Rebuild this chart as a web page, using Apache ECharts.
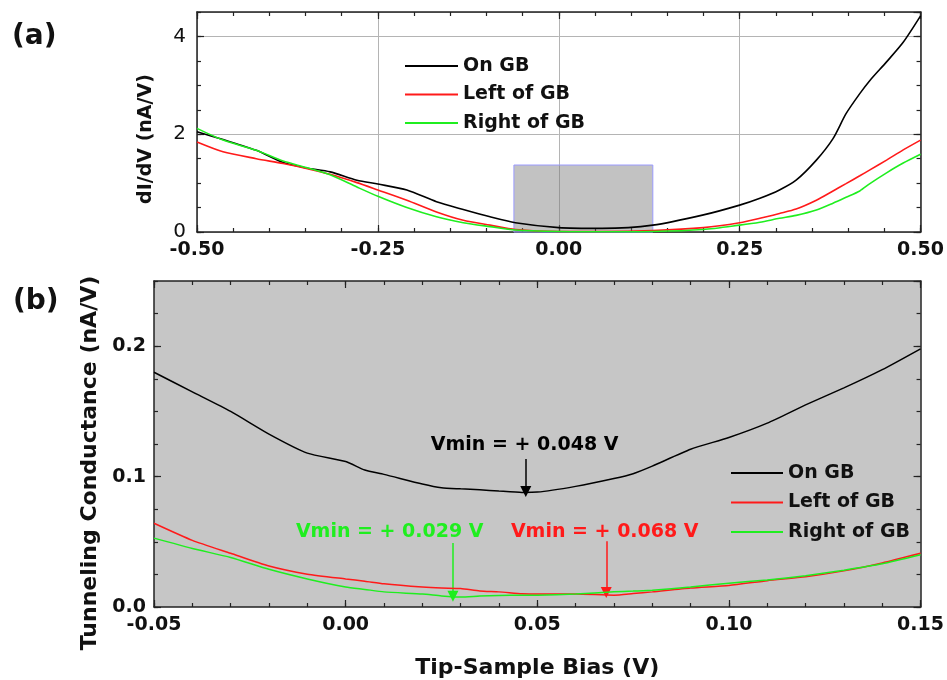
<!DOCTYPE html>
<html>
<head>
<meta charset="utf-8">
<script src="https://cdn.jsdelivr.net/npm/echarts@6/dist/echarts.min.js"></script>
<style>
html,body{margin:0;padding:0;background:#fff;}
#c{width:947px;height:680px;}
</style>
</head>
<body>
<div id="c"></div>
<script>
// ---------- data: panel (a) ----------
var seriesNames = ['On GB', 'Left of GB', 'Right of GB'];
var biasA = [-0.5,-0.464,-0.418,-0.381,-0.349,-0.316,-0.279,-0.25,-0.21,-0.169,-0.132,-0.095,-0.06,0,0.06,0.13,0.2,0.25,0.278,0.305,0.328,0.356,0.379,0.397,0.416,0.43,0.453,0.476,0.5];
var onGB_A    = [2.05,1.89,1.67,1.42,1.31,1.23,1.06,0.98,0.86,0.62,0.46,0.31,0.19,0.09,0.075,0.14,0.35,0.55,0.69,0.86,1.06,1.47,1.91,2.42,2.83,3.10,3.48,3.88,4.42];
var leftGB_A  = [1.84,1.64,1.50,1.40,1.30,1.18,1.01,0.86,0.65,0.41,0.24,0.14,0.05,0.01,0.01,0.03,0.09,0.19,0.28,0.38,0.47,0.65,0.84,0.99,1.15,1.27,1.47,1.68,1.88];
var rightGB_A = [2.12,1.88,1.67,1.45,1.32,1.17,0.92,0.73,0.50,0.31,0.19,0.11,0.04,0.01,0.005,0.01,0.05,0.14,0.20,0.28,0.34,0.45,0.59,0.71,0.84,0.99,1.21,1.41,1.59];
var zoomBox = [-0.062, 0.13, 1.37]; // x from, x to, height of highlighted window

// ---------- data: panel (b) ----------
var biasB = [-0.05,-0.04,-0.03,-0.02,-0.01,0,0.005,0.01,0.02,0.025,0.03,0.035,0.04,0.046,0.05,0.06,0.07,0.075,0.08,0.09,0.10,0.11,0.12,0.13,0.14,0.15];
var onGB_B    = [0.180,0.165,0.150,0.1326,0.118,0.1116,0.105,0.1017,0.0943,0.0914,0.0906,0.0899,0.0889,0.0879,0.0881,0.0925,0.0985,0.1022,0.108,0.121,0.130,0.141,0.155,0.168,0.182,0.198];
var leftGB_B  = [0.0642,0.0511,0.0412,0.0314,0.0252,0.0215,0.0198,0.0178,0.0153,0.0145,0.0141,0.0123,0.0116,0.0102,0.0099,0.0099,0.0091,0.0103,0.0116,0.0146,0.0165,0.0202,0.0232,0.0277,0.0338,0.0412];
var rightGB_B = [0.0528,0.0449,0.038,0.0289,0.0215,0.0153,0.0135,0.0116,0.0099,0.0085,0.0076,0.0084,0.0089,0.009,0.0091,0.0099,0.0116,0.0122,0.0128,0.0153,0.0183,0.0207,0.024,0.0282,0.0331,0.04];

// Vmin annotations: label text, arrow x, arrow top, arrow tip
var vminText  = ['Vmin = + 0.048 V', 'Vmin = + 0.068 V', 'Vmin = + 0.029 V'];
var vminX     = [0.047, 0.068, 0.028];
var arrowTop  = [0.1135, 0.0505, 0.049];
var arrowTip  = [0.0885, 0.0112, 0.0082];
var textPos   = [[0.0467, 0.124], [0.0676, 0.0575], [0.0115, 0.0575]];

var colors = ['#000000', '#ff1a1a', '#1fee1f'];
var FF = 'DejaVu Sans';

function pairs(xs, ys){ return xs.map(function(x,i){ return [x, ys[i]]; }); }

function xAxes(grid, min, max, major, minor, fmt, split) {
  var base = {type:'value', gridIndex:grid, min:min, max:max, splitLine:{show:false}, axisLabel:{show:false},
              axisLine:{show:false, onZero:false}};
  return [
    Object.assign({}, base, {position:'bottom', interval:major,
      axisLine:{show:true, onZero:false, lineStyle:{color:'#222', width:1.5}},
      axisTick:{show:true, inside:true, length:7, lineStyle:{color:'#222', width:1.2}},
      axisLabel:{show:true, color:'#111', fontFamily:FF, fontWeight:'bold', fontSize:19, margin:9,
                 formatter:function(v){return v.toFixed(fmt);}},
      splitLine:{show:split, lineStyle:{color:'#b4b4b4', width:1}}}),
    Object.assign({}, base, {position:'bottom', interval:minor,
      axisTick:{show:true, inside:true, length:4, lineStyle:{color:'#222', width:1.2}}}),
    Object.assign({}, base, {position:'top', interval:major,
      axisLine:{show:true, onZero:false, lineStyle:{color:'#222', width:1.5}},
      axisTick:{show:true, inside:true, length:7, lineStyle:{color:'#222', width:1.2}}}),
    Object.assign({}, base, {position:'top', interval:minor,
      axisTick:{show:true, inside:true, length:4, lineStyle:{color:'#222', width:1.2}}})
  ];
}
function yAxes(grid, min, max, major, minor, fmt, split, bold, fs, margin) {
  var base = {type:'value', gridIndex:grid, min:min, max:max, splitLine:{show:false}, axisLabel:{show:false},
              axisLine:{show:false, onZero:false}};
  return [
    Object.assign({}, base, {position:'left', interval:major,
      axisLine:{show:true, onZero:false, lineStyle:{color:'#222', width:1.5}},
      axisTick:{show:true, inside:true, length:7, lineStyle:{color:'#222', width:1.2}},
      axisLabel:{show:true, showMaxLabel:false, color:'#111', fontFamily:FF, fontWeight:bold?'bold':'normal', fontSize:fs, margin:margin,
                 formatter:function(v){return v.toFixed(fmt);}},
      splitLine:{show:split, lineStyle:{color:'#b4b4b4', width:1}}}),
    Object.assign({}, base, {position:'left', interval:minor,
      axisTick:{show:true, inside:true, length:4, lineStyle:{color:'#222', width:1.2}}}),
    Object.assign({}, base, {position:'right', interval:major,
      axisLine:{show:true, onZero:false, lineStyle:{color:'#222', width:1.5}},
      axisTick:{show:true, inside:true, length:7, lineStyle:{color:'#222', width:1.2}}}),
    Object.assign({}, base, {position:'right', interval:minor,
      axisTick:{show:true, inside:true, length:4, lineStyle:{color:'#222', width:1.2}}})
  ];
}

var xA = xAxes(0, -0.5, 0.5, 0.25, 0.05, 2, true);
var xB = xAxes(1, -0.05, 0.15, 0.05, 0.01, 2, false);
xB[0].name = 'Tip-Sample Bias (V)';
xB[0].nameLocation = 'middle';
xB[0].nameGap = 50;
xB[0].nameTextStyle = {fontFamily:FF, fontWeight:'bold', fontSize:22, color:'#111'};
var yA = yAxes(0, 0, 4.5, 2, 0.5, 0, true, false, 20, 11);
var yB = yAxes(1, 0, 0.25, 0.1, 0.025, 1, false, true, 19, 8);

var dataA = [onGB_A, leftGB_A, rightGB_A];
var dataB = [onGB_B, leftGB_B, rightGB_B];

var series = [];
dataA.forEach(function(d, i){
  var s = {name:seriesNames[i], type:'line', xAxisIndex:0, yAxisIndex:0, data:pairs(biasA, d),
    showSymbol:false, symbol:'none', smooth:0.25, z:5,
    lineStyle:{color:colors[i], width:1.6}, itemStyle:{color:colors[i]}};
  if (i === 0) {
    s.markArea = {silent:true, itemStyle:{color:'rgba(120,120,120,0.45)', borderColor:'#9a9aff', borderWidth:1},
      data:[[{xAxis:zoomBox[0], yAxis:0}, {xAxis:zoomBox[1], yAxis:zoomBox[2]}]]};
  }
  series.push(s);
});
dataB.forEach(function(d, i){
  series.push({name:seriesNames[i], type:'line', xAxisIndex:4, yAxisIndex:4, data:pairs(biasB, d),
    showSymbol:false, symbol:'none', smooth:0.2, z:5,
    lineStyle:{color:colors[i], width:1.5}, itemStyle:{color:colors[i]},
    markLine:{silent:true, symbol:['none','triangle'], symbolSize:11, animation:false,
      label:{show:false}, lineStyle:{color:colors[i], width:1.5, type:'solid'},
      itemStyle:{color:colors[i]},
      data:[[{coord:[vminX[i], arrowTop[i]]}, {coord:[vminX[i], arrowTip[i]]}]]},
    markPoint:{silent:true, symbol:'rect', symbolSize:0, animation:false,
      label:{show:true, position:'inside', formatter:vminText[i], color:colors[i],
             fontFamily:FF, fontWeight:'bold', fontSize:19},
      data:[{coord:textPos[i]}]}
  });
});

var legendStyle = {fontFamily:FF, fontWeight:'bold', fontSize:19, color:'#111', lineHeight:20};
var option = {
  animation:false,
  backgroundColor:'#ffffff',
  grid:[
    {left:197, top:12, width:725, height:220, containLabel:false},
    {left:154, top:281, width:768, height:336, containLabel:false, show:true, backgroundColor:'#c6c6c6', borderWidth:0}
  ],
  xAxis: xA.concat(xB),
  yAxis: yA.concat(yB),
  legend:[
    {orient:'vertical', left:400, top:51, itemWidth:53, itemHeight:14, itemGap:8.5, data:seriesNames,
     textStyle:legendStyle, selectedMode:false, icon:'path://M0,6 L53,6 L53,8 L0,8 Z'},
    {orient:'vertical', left:726, top:458, itemWidth:52, itemHeight:14, itemGap:9.5, data:seriesNames,
     textStyle:legendStyle, selectedMode:false, icon:'path://M0,6 L53,6 L53,8 L0,8 Z'}
  ],
  graphic:[
    {type:'text', left:12, top:23, style:{text:'(a)', fontFamily:FF, fontWeight:'bold', fontSize:28, fill:'#111'}},
    {type:'text', left:13, top:288, style:{text:'(b)', fontFamily:FF, fontWeight:'bold', fontSize:28, fill:'#111'}},
    {type:'text', x:146, y:139, rotation:Math.PI/2,
     style:{text:'dI/dV (nA/V)', fontFamily:FF, fontWeight:'bold', fontSize:19, fill:'#111', align:'center', verticalAlign:'middle'}},
    {type:'text', x:90, y:463, rotation:Math.PI/2,
     style:{text:'Tunneling Conductance (nA/V)', fontFamily:FF, fontWeight:'bold', fontSize:22, fill:'#111', align:'center', verticalAlign:'middle'}}
  ],
  series:series
};
var chart = echarts.init(document.getElementById('c'), null, {renderer:'canvas'});
chart.setOption(option);
</script>
</body>
</html>
